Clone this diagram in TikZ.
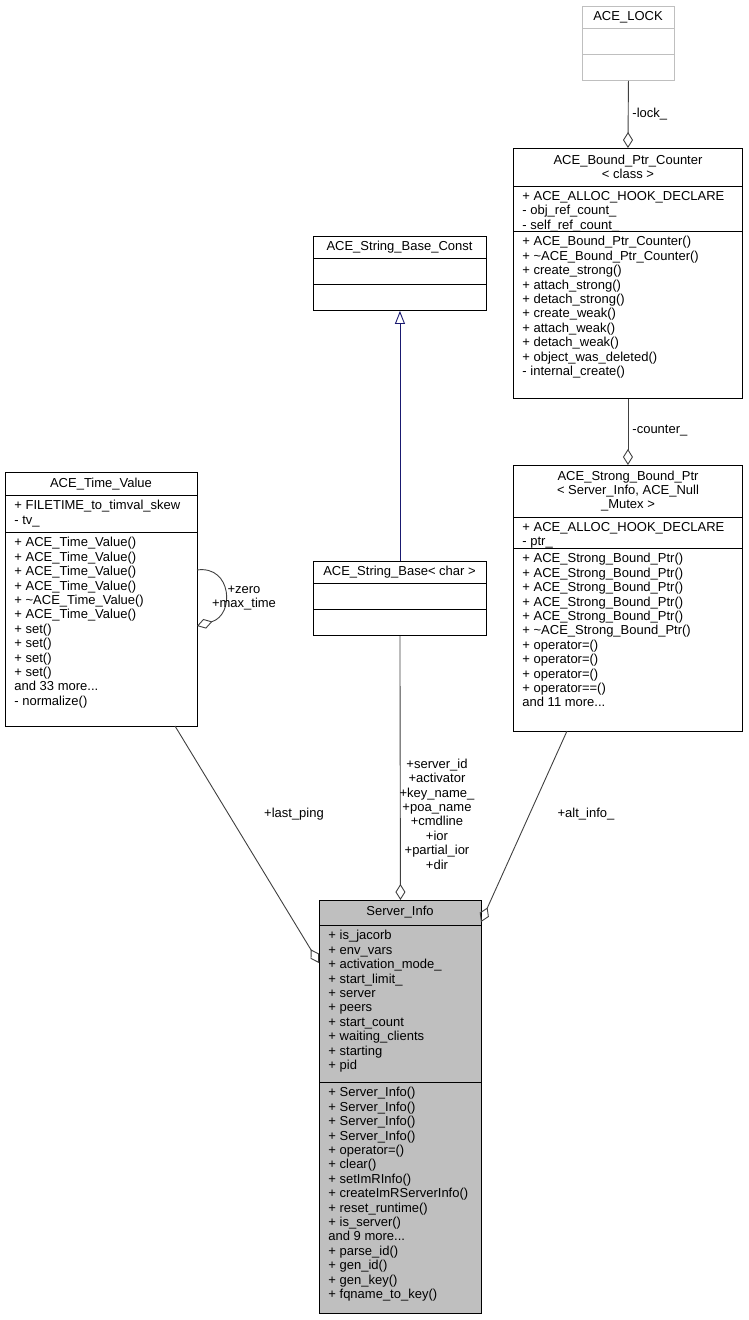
\documentclass[tikz,border=0pt]{standalone}
\usepackage{fontspec}
\setmainfont{Liberation Sans}
\usetikzlibrary{arrows.meta,positioning}
\definecolor{edgegray}{RGB}{64,64,64}
\definecolor{lockgray}{RGB}{191,191,191}
\definecolor{infogray}{RGB}{191,191,191}
\definecolor{inhnavy}{RGB}{25,25,112}

\begin{document}
\begin{tikzpicture}[x=1pt,y=-1pt, line width=0.9pt,
    box/.style={rectangle, draw=black, anchor=north west, inner sep=0pt},
    title/.style={font=\fontsize{13}{14.4}\selectfont, align=center, inner sep=0pt},
    member/.style={font=\fontsize{13}{14.4}\selectfont, align=left, anchor=north west, inner sep=0pt},
    elabel/.style={font=\fontsize{13}{14.4}\selectfont, align=center, inner sep=0pt},
    agg/.style={draw=edgegray, {Diamond[open,length=16pt,width=10pt]}-},
    inh/.style={draw=inhnavy, {Triangle[open,length=13pt,width=10pt]}-}
]
\useasboundingbox (0,0) rectangle (748,1320);

% ACE_LOCK
\node[box, draw=lockgray, minimum width=92pt, minimum height=74pt] (lock) at (582,6) {};
\draw[lockgray] (582,28) -- (674,28) (582,54) -- (674,54);
\node[title] at (628,17) {ACE\_LOCK};

% ACE_Bound_Ptr_Counter
\node[box, minimum width=229pt, minimum height=250pt] (cnt) at (513,148) {};
\draw (513,186) -- (742,186) (513,231) -- (742,231);
\node[title] at (628,167) {ACE\_Bound\_Ptr\_Counter\\< class >};
\node[member] at (522,191) {+ ACE\_ALLOC\_HOOK\_DECLARE\\- obj\_ref\_count\_\\- self\_ref\_count\_};
\node[member] at (522,236) {+ ACE\_Bound\_Ptr\_Counter()\\+ \textasciitilde ACE\_Bound\_Ptr\_Counter()\\+ create\_strong()\\+ attach\_strong()\\+ detach\_strong()\\+ create\_weak()\\+ attach\_weak()\\+ detach\_weak()\\+ object\_was\_deleted()\\- internal\_create()};

% ACE_String_Base_Const
\node[box, minimum width=173pt, minimum height=74pt] (sbc) at (313,236) {};
\draw (313,258) -- (486,258) (313,284) -- (486,284);
\node[title] at (399.5,247) {ACE\_String\_Base\_Const};

% ACE_Time_Value
\node[box, minimum width=192pt, minimum height=254pt] (tv) at (5,472) {};
\draw (5,495) -- (197,495) (5,532) -- (197,532);
\node[title] at (101,484) {ACE\_Time\_Value};
\node[member] at (14,500) {+ FILETIME\_to\_timval\_skew\\- tv\_};
\node[member] at (14,537) {+ ACE\_Time\_Value()\\+ ACE\_Time\_Value()\\+ ACE\_Time\_Value()\\+ ACE\_Time\_Value()\\+ \textasciitilde ACE\_Time\_Value()\\+ ACE\_Time\_Value()\\+ set()\\+ set()\\+ set()\\+ set()\\and 33 more...\\- normalize()};

% ACE_String_Base< char >
\node[box, minimum width=173pt, minimum height=74pt] (sb) at (313,561) {};
\draw (313,583) -- (486,583) (313,609) -- (486,609);
\node[title] at (399.5,572) {ACE\_String\_Base< char >};

% ACE_Strong_Bound_Ptr
\node[box, minimum width=229pt, minimum height=266pt] (sbp) at (513,465) {};
\draw (513,517) -- (742,517) (513,548) -- (742,548);
\node[title] at (628,491) {ACE\_Strong\_Bound\_Ptr\\< Server\_Info, ACE\_Null\\\_Mutex >};
\node[member] at (522,522) {+ ACE\_ALLOC\_HOOK\_DECLARE\\- ptr\_};
\node[member] at (522,553) {+ ACE\_Strong\_Bound\_Ptr()\\+ ACE\_Strong\_Bound\_Ptr()\\+ ACE\_Strong\_Bound\_Ptr()\\+ ACE\_Strong\_Bound\_Ptr()\\+ ACE\_Strong\_Bound\_Ptr()\\+ \textasciitilde ACE\_Strong\_Bound\_Ptr()\\+ operator=()\\+ operator=()\\+ operator=()\\+ operator==()\\and 11 more...};

% Server_Info
\node[box, fill=infogray, minimum width=162pt, minimum height=413pt] (si) at (319,900) {};
\draw (319,925) -- (481,925) (319,1082) -- (481,1082);
\node[title] at (400,912) {Server\_Info};
\node[member] at (328,930) {+ is\_jacorb\\+ env\_vars\\+ activation\_mode\_\\+ start\_limit\_\\+ server\\+ peers\\+ start\_count\\+ waiting\_clients\\+ starting\\+ pid};
\node[member] at (328,1087) {+ Server\_Info()\\+ Server\_Info()\\+ Server\_Info()\\+ Server\_Info()\\+ operator=()\\+ clear()\\+ setImRInfo()\\+ createImRServerInfo()\\+ reset\_runtime()\\+ is\_server()\\and 9 more...\\+ parse\_id()\\+ gen\_id()\\+ gen\_key()\\+ fqname\_to\_key()};

% connectors
\coordinate (si-l) at (319,963);
\coordinate (si-r) at (481,922);
\coordinate (tv-b) at (175,726);
\coordinate (sbp-b) at (567,731);
\coordinate (tv-r1) at (197,570);
\coordinate (tv-r2) at (197,626);

\draw[agg] (cnt.north) -- (lock.south);
\node[elabel, anchor=west] at (632,114) {-lock\_};
\draw[agg] (sbp.north) -- (cnt.south);
\node[elabel, anchor=west] at (632,431) {-counter\_};
\draw[inh] (sbc.south) -- (sb.north);
\draw[agg] (si.north) -- (sb.south);
\node[elabel] at (437,814) {+server\_id\\+activator\\+key\_name\_\\+poa\_name\\+cmdline\\+ior\\+partial\_ior\\+dir};
\draw[agg] (si-l) -- (tv-b);
\node[elabel] at (294,814) {+last\_ping};
\draw[agg] (si-r) -- (sbp-b);
\node[elabel] at (586,814) {+alt\_info\_};
\draw[agg] (tv-r2) .. controls (235,615) and (232,565) .. (tv-r1);
\node[elabel] at (244,598) {+zero\\+max\_time};
\end{tikzpicture}
\end{document}
